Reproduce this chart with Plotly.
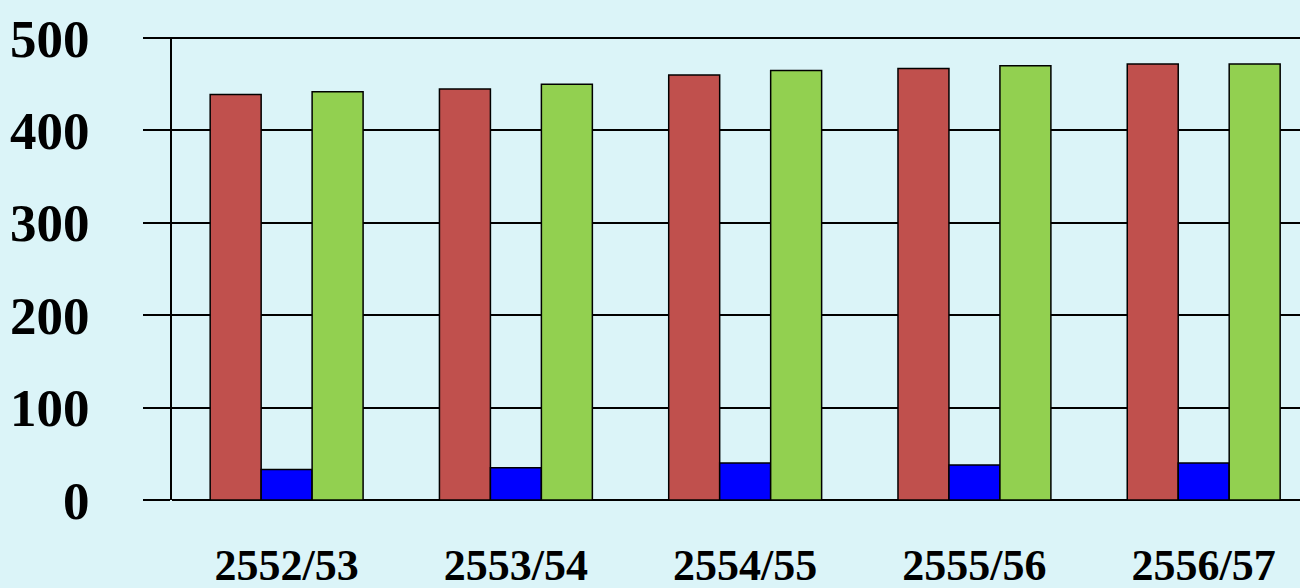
import plotly.graph_objects as go

categories = ["2552/53", "2553/54", "2554/55", "2555/56", "2556/57"]
series_red = [439, 445, 460, 467, 472]
series_blue = [33, 35, 40, 38, 40]
series_green = [442, 450, 465, 470, 472]
y_ticks = [0, 100, 200, 300, 400, 500]

colors = {"red": "#C0504D", "blue": "#0000FF", "green": "#92D050"}
bg = "#DBF4F8"

fig = go.Figure()
for name, vals in (("red", series_red), ("blue", series_blue), ("green", series_green)):
    fig.add_trace(go.Bar(
        x=categories, y=vals, name=name,
        marker=dict(color=colors[name], line=dict(color="black", width=1.5)),
        showlegend=False,
    ))

font = dict(family="Liberation Serif", color="black", weight="bold")

fig.update_layout(
    width=1300, height=588,
    paper_bgcolor=bg, plot_bgcolor=bg,
    margin=dict(l=172, r=0, t=37, b=88),
    barmode="group", bargap=0.333, bargroupgap=0,
    xaxis=dict(
        type="category", range=[-0.5, 4.42], automargin=False,
        showgrid=False, zeroline=False, showline=False,
        ticks="", tickfont=dict(size=44, **font),
        ticklabelstandoff=35,
    ),
    yaxis=dict(
        range=[0, 501.2], tickvals=y_ticks, automargin=False,
        showgrid=True, gridcolor="black", gridwidth=2,
        zeroline=True, zerolinecolor="black", zerolinewidth=2,
        showline=True, linecolor="black", linewidth=2,
        ticks="outside", ticklen=27, tickcolor="black", tickwidth=2,
        tickfont=dict(size=53, **font),
        ticklabelstandoff=43,
    ),
)

fig.write_html(
    "out.html",
    config={"displayModeBar": False},
    post_script="document.body.style.margin='0';document.body.style.background='" + bg + "';",
)
